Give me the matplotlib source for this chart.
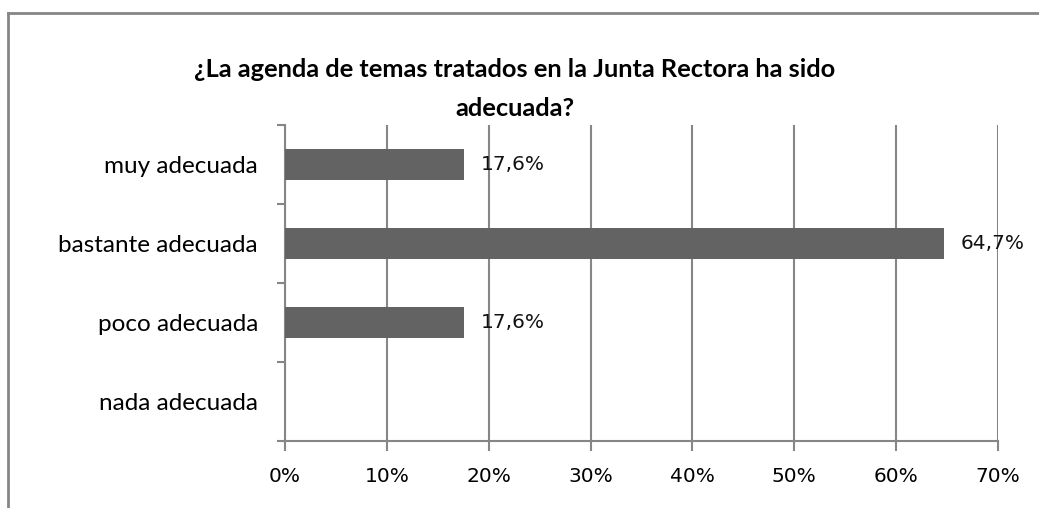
import matplotlib
matplotlib.use("Agg")
import matplotlib.pyplot as plt
from matplotlib.lines import Line2D

# data, top to bottom
categories = ["muy adecuada", "bastante adecuada", "poco adecuada", "nada adecuada"]
values = [17.6, 64.7, 17.6, 0.0]
value_labels = ["17,6%", "64,7%", "17,6%", None]
xticks = [0, 10, 20, 30, 40, 50, 60, 70]
title = "¿La agenda de temas tratados en la Junta Rectora ha sido\nadecuada?"

grey = "#868686"
bar_col = "#636363"

fig = plt.figure(figsize=(10.39, 5.08), dpi=100)
ax = fig.add_axes([285 / 1039, 1 - 441 / 508, 713 / 1039, 316 / 508])

ypos = list(range(len(categories)))[::-1]
ax.barh(ypos, values, height=0.4, color=bar_col, zorder=3)

for y, v, lab in zip(ypos, values, value_labels):
    if lab:
        ax.text(v + 1.6, y, lab, va="center", ha="left", fontsize=14.5,
                family="DejaVu Sans", color="#111111", zorder=4)

ax.set_xlim(0, 70)
ax.set_ylim(-0.5, 3.5)
ax.set_xticks(xticks)
ax.set_xticklabels([f"{t}%" for t in xticks], family="DejaVu Sans", fontsize=14.5)
ax.set_yticks(ypos)
ax.set_yticklabels(categories, family="Lato", fontsize=17.5)
ax.set_yticks([-0.5, 0.5, 1.5, 2.5, 3.5], minor=True)
ax.tick_params(axis="y", which="major", length=0, pad=19.5)
ax.tick_params(axis="y", which="minor", length=6, width=1.5, color=grey)
ax.tick_params(axis="x", length=7, width=1.5, color=grey, pad=12)

ax.grid(axis="x", color=grey, linewidth=1.5, zorder=0)
for s in ["top", "right"]:
    ax.spines[s].set_visible(False)
for s in ["left", "bottom"]:
    ax.spines[s].set_color(grey)
    ax.spines[s].set_linewidth(1.5)

fig.text(515 / 1039, 1 - 89 / 508, title, ha="center", va="center",
         fontsize=18.3, fontweight="bold", family="Lato", linespacing=1.8)

# outer chart frame (top and left edges visible)
fig.add_artist(Line2D([8 / 1039, 8 / 1039], [0, 1 - 13 / 508], color=grey, lw=2))
fig.add_artist(Line2D([8 / 1039, 1], [1 - 13 / 508, 1 - 13 / 508], color=grey, lw=2))

fig.savefig("out.png", dpi=100)
